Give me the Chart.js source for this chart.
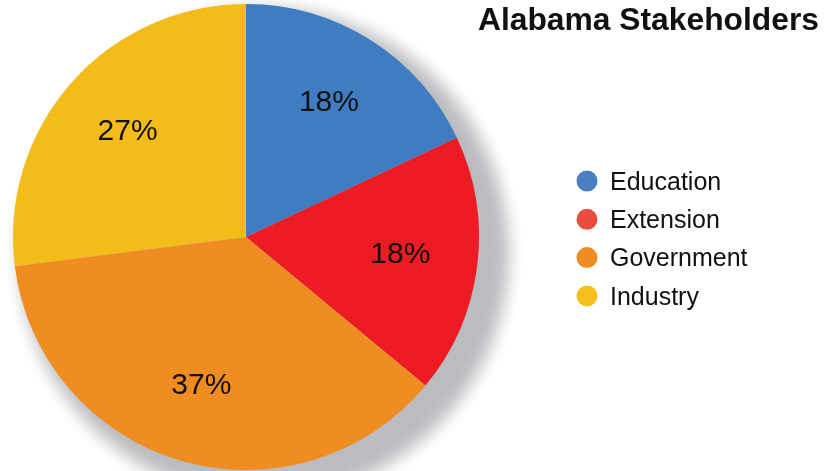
<!DOCTYPE html>
<html>
<head>
<meta charset="utf-8">
<script src="https://cdn.jsdelivr.net/npm/chart.js@4.4.1/dist/chart.umd.min.js"></script>
<style>
  html, body { margin: 0; padding: 0; background: #ffffff; }
  #wrap { width: 835px; height: 471px; position: relative; }
</style>
</head>
<body>
<div id="wrap"><canvas id="chart" width="835" height="471"></canvas></div>
<script>
// Stakeholder shares (percent)
const chartTitle = 'Alabama Stakeholders';
const categories = ['Education', 'Extension', 'Government', 'Industry'];
const shares = [18, 18, 37, 27];
const sliceColors = ['#3F7CC1', '#ED1C24', '#EF8C22', '#F4BC1B'];
const legendDotColors = ['#4A7FC4', '#E74C3C', '#EF8D25', '#F5BF1E'];

const FONT = '"Liberation Sans", Arial, Helvetica, sans-serif';

// Soft grey drop shadow behind the pie: an offset disc whose rim fades out
const pieShadow = {
  id: 'pieShadow',
  beforeDatasetsDraw(chart) {
    const arc = chart.getDatasetMeta(0).data[0];
    if (!arc) return;
    const { x, y, outerRadius } = arc.getProps(['x', 'y', 'outerRadius'], true);
    const ctx = chart.ctx;
    const cx = x + 18, cy = y + 16;
    const solid = outerRadius - 6, outer = outerRadius + 26;
    const s = solid / outer;
    const g = ctx.createRadialGradient(cx, cy, 0, cx, cy, outer);
    const rgb = '186,188,191';
    const fade = [[0, 1], [0.15, 0.96], [0.3, 0.85], [0.45, 0.65], [0.6, 0.42], [0.75, 0.2], [0.88, 0.07], [1, 0]];
    g.addColorStop(0, 'rgba(' + rgb + ',1)');
    fade.forEach(([t, a]) => g.addColorStop(s + (1 - s) * t, 'rgba(' + rgb + ',' + a + ')'));
    ctx.save();
    ctx.fillStyle = g;
    ctx.beginPath();
    ctx.arc(cx, cy, outer, 0, Math.PI * 2);
    ctx.fill();
    ctx.restore();
  }
};

// Percent labels inside each slice
const sliceLabels = {
  id: 'sliceLabels',
  afterDatasetsDraw(chart) {
    const ctx = chart.ctx;
    const meta = chart.getDatasetMeta(0);
    const values = chart.data.datasets[0].data;
    ctx.save();
    ctx.font = '30px ' + FONT;
    ctx.fillStyle = '#111111';
    ctx.textAlign = 'center';
    ctx.textBaseline = 'middle';
    meta.data.forEach((arc, i) => {
      const { x, y, startAngle, endAngle, outerRadius } =
        arc.getProps(['x', 'y', 'startAngle', 'endAngle', 'outerRadius'], true);
      const mid = (startAngle + endAngle) / 2;
      const r = outerRadius * 0.672;
      ctx.fillText(values[i] + '%', x + Math.cos(mid) * r - 1, y + Math.sin(mid) * r - 2);
    });
    ctx.restore();
  }
};

// Title and legend at the right
const sideText = {
  id: 'sideText',
  afterDraw(chart) {
    const ctx = chart.ctx;
    ctx.save();
    ctx.font = 'bold 31.8px ' + FONT;
    ctx.fillStyle = '#111111';
    ctx.textAlign = 'right';
    ctx.textBaseline = 'alphabetic';
    ctx.fillText(chartTitle, 819, 30);

    const labels = chart.data.labels;
    ctx.font = '25px ' + FONT;
    ctx.textAlign = 'left';
    ctx.textBaseline = 'middle';
    labels.forEach((label, i) => {
      const cy = 181 + i * 38.3;
      ctx.fillStyle = legendDotColors[i];
      ctx.beginPath();
      ctx.arc(587, cy, 10.5, 0, Math.PI * 2);
      ctx.fill();
      ctx.fillStyle = '#111111';
      ctx.fillText(label, 610, cy + 2);
    });
    ctx.restore();
  }
};

new Chart(document.getElementById('chart'), {
  type: 'pie',
  data: {
    labels: categories,
    datasets: [{
      data: shares,
      backgroundColor: sliceColors,
      borderWidth: 0,
      hoverOffset: 0
    }]
  },
  options: {
    responsive: false,
    animation: false,
    layout: { padding: { left: 13, top: 4, right: 356, bottom: 1 } },
    plugins: {
      legend: { display: false },
      title: { display: false },
      tooltip: { enabled: false }
    }
  },
  plugins: [pieShadow, sliceLabels, sideText]
});
</script>
</body>
</html>
